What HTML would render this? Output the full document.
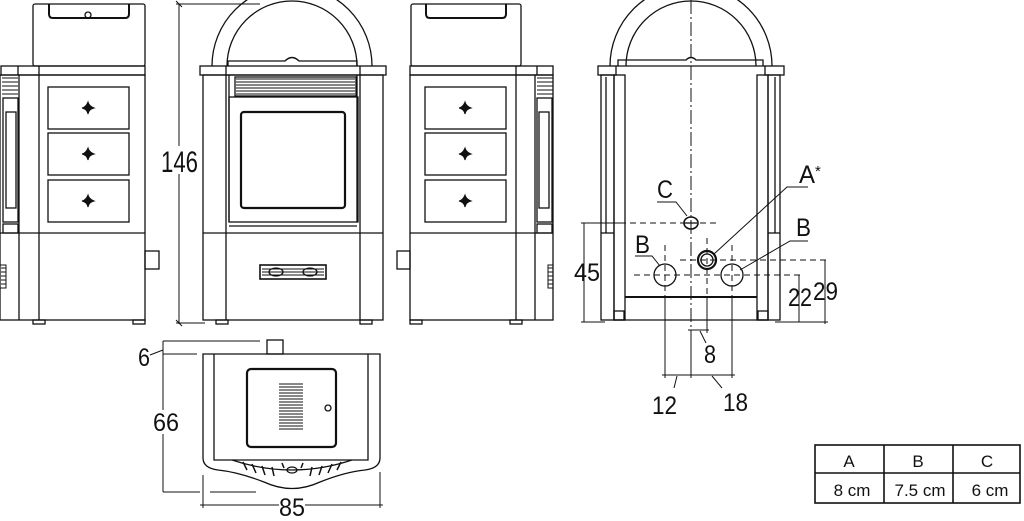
<!DOCTYPE html>
<html><head><meta charset="utf-8"><style>
html,body{margin:0;padding:0;background:#fff;}
svg{display:block;}
text{font-family:"Liberation Sans",sans-serif;fill:#111;}
</style></head><body>
<svg width="1024" height="521" viewBox="0 0 1024 521" xmlns="http://www.w3.org/2000/svg" fill="none" stroke="#111" stroke-width="1.3">
<defs>
<g id="plus"><path d="M-6 0Q-2 -1 0 -6Q1 -2 6 0Q1 1 0 6Q-1 1 -6 0Z" fill="#111" stroke-width="1"/></g>
</defs>
<!-- LEFT SIDE VIEW -->
<rect x="33" y="4" width="112" height="62" rx="2"/>
<path d="M49 4V14Q49 18 53 18H125Q129 18 129 14V4" stroke-width="2"/>
<circle cx="88" cy="15" r="3"/>
<rect x="1" y="66" width="144" height="9"/>
<line x1="18" y1="66" x2="18" y2="75"/><line x1="39" y1="66" x2="39" y2="320"/>
<line x1="19" y1="75" x2="19" y2="320"/>
<rect x="0" y="75" width="145" height="245"/>
<line x1="0" y1="233" x2="145" y2="233"/>
<path d="M2 78H18M2 82H18M2 86H18M2 90H18M2 94H18" stroke-width="1"/>
<rect x="3" y="98" width="15" height="124"/>
<rect x="6" y="112" width="10" height="96"/>
<rect x="3" y="224" width="15" height="9"/>
<rect x="48" y="87" width="81" height="42"/><rect x="48" y="133" width="81" height="42"/><rect x="48" y="180" width="81" height="42"/>
<use href="#plus" x="88" y="108"/><use href="#plus" x="88" y="154"/><use href="#plus" x="88" y="201"/>
<path d="M0 265H6V288H0M1 268H6M1 272H6M1 276H6M1 280H6M1 284H6" stroke-width="1"/>
<rect x="145" y="251" width="14" height="18"/>
<rect x="33" y="320" width="12" height="4"/><rect x="133" y="320" width="12" height="4"/>
<!-- 146 dimension -->
<line x1="179" y1="4" x2="179" y2="324" stroke-width="1"/>
<line x1="176" y1="4" x2="260" y2="4" stroke-width="1"/>
<line x1="176" y1="323" x2="205" y2="323" stroke-width="1"/>
<path d="M176 1L182 7M176 320L182 326" stroke-width="1"/>
<rect x="162" y="146" width="36" height="28" fill="#fff" stroke="none"/>
<text x="161" y="172" font-size="30" textLength="37" lengthAdjust="spacingAndGlyphs" stroke="none">146</text>
<!-- FRONT VIEW -->
<path d="M212 66A80 80 0 0 1 372 66" />
<path d="M227 66A65 65 0 0 1 357 66"/>
<path d="M228 66V61H285Q292 54 299 61H357V66"/>
<rect x="200" y="66" width="186" height="9"/>
<line x1="226" y1="66" x2="226" y2="320"/><line x1="360" y1="66" x2="360" y2="320"/>
<rect x="203" y="75" width="180" height="245"/>
<line x1="229" y1="75" x2="229" y2="222"/><line x1="357" y1="75" x2="357" y2="222"/>
<path d="M236 79H355M236 82H355M236 85H355M236 88H355M236 91H355M236 94H355" stroke-width="1"/>
<rect x="235" y="77" width="121" height="19"/>
<rect x="229" y="97" width="129" height="125"/>
<rect x="241" y="112" width="104" height="96" rx="3" stroke-width="2.2"/>
<line x1="229" y1="226" x2="357" y2="226"/>
<line x1="203" y1="233" x2="383" y2="233"/>
<rect x="260" y="265" width="66" height="14" stroke-width="1.6"/>
<path d="M262 269H324M262 272H324M262 275H324" stroke-width="1"/>
<ellipse cx="276" cy="272" rx="7" ry="4"/><ellipse cx="310" cy="272" rx="7" ry="4"/>
<rect x="216" y="320" width="12" height="4"/><rect x="360" y="320" width="12" height="4"/>
<!-- RIGHT SIDE VIEW -->
<rect x="411" y="4" width="110" height="62" rx="2"/>
<path d="M426 4V14Q426 18 430 18H502Q506 18 506 14V4" stroke-width="2"/>
<rect x="410" y="66" width="143" height="9"/>
<line x1="516" y1="66" x2="516" y2="320"/><line x1="537" y1="66" x2="537" y2="75"/>
<line x1="535" y1="75" x2="535" y2="320"/>
<rect x="410" y="75" width="143" height="245"/>
<line x1="410" y1="233" x2="553" y2="233"/>
<path d="M537 78H553M537 82H553M537 86H553M537 90H553M537 94H553" stroke-width="1"/>
<rect x="537" y="98" width="15" height="124"/>
<rect x="539" y="112" width="10" height="96"/>
<rect x="537" y="224" width="15" height="9"/>
<rect x="425" y="87" width="81" height="42"/><rect x="425" y="133" width="81" height="42"/><rect x="425" y="180" width="81" height="42"/>
<use href="#plus" x="465" y="108"/><use href="#plus" x="465" y="154"/><use href="#plus" x="465" y="201"/>
<path d="M553 265H548V288H553M548 268H553M548 272H553M548 276H553M548 280H553M548 284H553" stroke-width="1"/>
<rect x="397" y="251" width="13" height="18"/>
<rect x="410" y="320" width="12" height="4"/><rect x="510" y="320" width="12" height="4"/>
<!-- BACK VIEW -->
<path d="M610 66A81 81 0 0 1 772 66"/>
<path d="M626 66A65 65 0 0 1 756 66"/>
<path d="M618 66V60H686Q691 55 696 60H763V66"/>
<rect x="598" y="66" width="18" height="9"/><rect x="765" y="66" width="19" height="9"/>
<line x1="616" y1="66" x2="765" y2="66"/>
<rect x="601" y="75" width="13" height="245"/><line x1="606" y1="77" x2="606" y2="233"/>
<line x1="601" y1="233" x2="614" y2="233"/>
<rect x="614" y="75" width="11" height="245"/>
<rect x="757" y="75" width="11" height="245"/>
<rect x="768" y="75" width="12" height="245"/><line x1="775" y1="77" x2="775" y2="233"/>
<line x1="768" y1="233" x2="780" y2="233"/>
<line x1="625" y1="297" x2="757" y2="297" stroke-width="2"/>
<line x1="614" y1="320" x2="768" y2="320"/>
<rect x="614" y="311" width="10" height="9"/><rect x="758" y="311" width="10" height="9"/>
<!-- centerlines & dashed -->
<line x1="691" y1="0" x2="691" y2="335" stroke-width="1" stroke-dasharray="14 3 2 3"/>
<line x1="620" y1="223" x2="717" y2="223" stroke-width="1" stroke-dasharray="6 4"/>
<line x1="680" y1="260" x2="827" y2="260" stroke-width="1" stroke-dasharray="6 4"/>
<line x1="634" y1="275" x2="800" y2="275" stroke-width="1" stroke-dasharray="6 4"/>
<line x1="665" y1="245" x2="665" y2="297" stroke-width="1" stroke-dasharray="6 4"/>
<line x1="707" y1="238" x2="707" y2="297" stroke-width="1" stroke-dasharray="6 4"/>
<line x1="732" y1="245" x2="732" y2="297" stroke-width="1" stroke-dasharray="6 4"/>
<ellipse cx="691" cy="223" rx="7" ry="6" stroke-width="1.6"/><line x1="685" y1="223" x2="697" y2="223"/>
<circle cx="707" cy="260" r="9" stroke-width="2.2"/><circle cx="707" cy="260" r="6"/>
<circle cx="665" cy="275" r="11"/><circle cx="732" cy="275" r="11"/>
<!-- leaders -->
<path d="M657 202H676L687 216" stroke-width="1"/>
<path d="M714 254L787 187H808" stroke-width="1"/>
<path d="M635 256H652L660 266" stroke-width="1"/>
<path d="M740 270L790 241H808" stroke-width="1"/>
<!-- dims -->
<g stroke-width="1">
<line x1="584" y1="223" x2="584" y2="322"/><line x1="581" y1="223" x2="620" y2="223"/><line x1="581" y1="322" x2="605" y2="322"/>
<line x1="799" y1="275" x2="799" y2="322"/><line x1="825" y1="260" x2="825" y2="324"/>
<line x1="775" y1="322" x2="828" y2="322"/>
<line x1="665" y1="297" x2="665" y2="378"/><line x1="732" y1="297" x2="732" y2="378"/>
<line x1="691" y1="330" x2="691" y2="378"/><line x1="707" y1="297" x2="707" y2="333"/>
<line x1="688" y1="330" x2="709" y2="330"/>
<line x1="662" y1="375" x2="735" y2="375"/>
<path d="M700 331L706 343M677 376L674 388M712 376L722 388"/>
</g>
<g stroke="none" font-size="25" lengthAdjust="spacingAndGlyphs">
<text x="574" y="281" textLength="26" lengthAdjust="spacingAndGlyphs">45</text>
<text x="788" y="306" textLength="24" lengthAdjust="spacingAndGlyphs">22</text>
<text x="813" y="300" textLength="25" lengthAdjust="spacingAndGlyphs">29</text>
<text x="704" y="363" textLength="12" lengthAdjust="spacingAndGlyphs">8</text>
<text x="652" y="414" textLength="25" lengthAdjust="spacingAndGlyphs">12</text>
<text x="723" y="411" textLength="25" lengthAdjust="spacingAndGlyphs">18</text>
<text x="657" y="198" textLength="16" lengthAdjust="spacingAndGlyphs">C</text>
<text x="799" y="183" textLength="16" lengthAdjust="spacingAndGlyphs">A</text>
<text x="815" y="176" font-size="15">*</text>
<text x="635" y="253" textLength="15" lengthAdjust="spacingAndGlyphs">B</text>
<text x="796" y="236" textLength="15" lengthAdjust="spacingAndGlyphs">B</text>
</g>
<!-- TOP VIEW -->
<rect x="267" y="340" width="16" height="14"/>
<path d="M203 354H380V458Q380 468 365 470Q345 472 320 482Q292 495 264 482Q238 472 218 470Q203 468 203 458Z"/>
<path d="M214 354V460H368V354"/>
<path d="M232 460Q292 480 352 460"/>
<path d="M247 470L243 462M256 473L252 464M265 475L262 466M274 476L272 467M310 476L312 467M319 475L322 466M328 473L332 464M337 470L341 462M284 468L282 463M301 468L303 463" stroke-width="1.5"/>
<ellipse cx="292" cy="470" rx="5" ry="3"/>
<rect x="247" y="369" width="89" height="78" rx="4" stroke-width="2.2"/>
<path d="M279 384H303M279 387H303M279 390H303M279 393H303M279 396H303M279 399H303M279 402H303M279 405H303M279 408H303M279 411H303M279 414H303M279 417H303M279 420H303M279 423H303M279 426H303M279 429H303" stroke-width="1"/>
<circle cx="328" cy="408" r="3"/>
<g stroke-width="1">
<line x1="163" y1="341" x2="260" y2="341"/><line x1="163" y1="354" x2="197" y2="354"/>
<line x1="163" y1="341" x2="163" y2="492"/><line x1="163" y1="492" x2="200" y2="492"/>
<line x1="210" y1="492" x2="256" y2="492"/>
<line x1="150" y1="355" x2="163" y2="350"/>
<line x1="203" y1="475" x2="203" y2="508"/><line x1="380" y1="472" x2="380" y2="508"/>
<line x1="200" y1="505" x2="383" y2="505"/>
</g>
<g stroke="none" font-size="25">
<text x="138" y="366" textLength="12" lengthAdjust="spacingAndGlyphs">6</text>
<rect x="152" y="410" width="26" height="24" fill="#fff"/>
<text x="153" y="431" textLength="26" lengthAdjust="spacingAndGlyphs">66</text>
<rect x="279" y="496" width="26" height="22" fill="#fff"/>
<text x="279" y="516" textLength="26" lengthAdjust="spacingAndGlyphs">85</text>
</g>
<!-- TABLE -->
<rect x="815" y="445" width="205" height="58" stroke-width="1.6"/>
<line x1="815" y1="473" x2="1020" y2="473" stroke-width="1.6"/>
<line x1="884" y1="445" x2="884" y2="503" stroke-width="1.6"/>
<line x1="953" y1="445" x2="953" y2="503" stroke-width="1.6"/>
<g stroke="none" font-size="17" text-anchor="middle">
<text x="849" y="467">A</text><text x="918" y="467">B</text><text x="987" y="467">C</text>
<text x="852" y="496">8 cm</text><text x="920" y="496">7.5 cm</text><text x="990" y="496">6 cm</text>
</g>
</svg>
</body></html>
